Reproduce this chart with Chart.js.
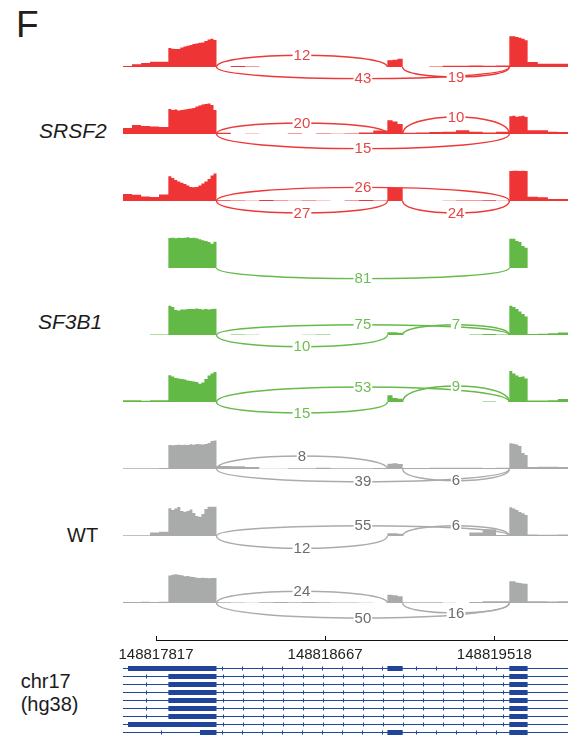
<!DOCTYPE html>
<html>
<head>
<meta charset="utf-8">
<script src="https://cdn.jsdelivr.net/npm/chart.js@4.4.1/dist/chart.umd.min.js"></script>
<style>
  html, body { margin: 0; padding: 0; background: #ffffff; }
  body { width: 568px; height: 736px; position: relative; overflow: hidden;
         font-family: "Liberation Sans", Arial, sans-serif; }
  .lbl { position: absolute; white-space: nowrap; line-height: 1; color: #1c1c1c; }
  .it { font-style: italic; }
  canvas { position: absolute; }
</style>
</head>
<body>
<div class="lbl" style="left:16px; top:5.7px; font-size:37px; color:#231f20;">F</div>
<div class="lbl it" style="left:39px; top:120.2px; font-size:21px;">SRSF2</div>
<div class="lbl it" style="left:38px; top:311.2px; font-size:21px;">SF3B1</div>
<div class="lbl" style="left:67px; top:525.1px; font-size:20px;">WT</div>
<div class="lbl" style="left:20.7px; top:671.1px; font-size:20px;">chr17</div>
<div class="lbl" style="left:20.7px; top:693.9px; font-size:20px;">(hg38)</div>

<script>
// ---------- genomic window (chr17, hg38) ----------
const VIEW_START = 148817651;
const VIEW_END   = 148819888;
const axisTicks  = [148817817, 148818667, 148819518];

// coverage bin start coordinates (each bin runs to the next start; last bin ends at VIEW_END)
const binStarts = [
  148817651, 148817696, 148817742, 148817787, 148817832,
  148817879, 148817894, 148817909, 148817924, 148817939, 148817955, 148817970, 148817985,
  148818000, 148818015, 148818030, 148818045, 148818060, 148818076, 148818091, 148818106,
  148818121, 148818193, 148818264, 148818336, 148818407, 148818479, 148818551, 148818622,
  148818694, 148818765, 148818837, 148818909,
  148818980, 148819006, 148819031,
  148819057, 148819124, 148819191, 148819258, 148819325, 148819392, 148819459, 148819526,
  148819593, 148819608, 148819624, 148819639, 148819654, 148819670,
  148819685, 148819736, 148819787, 148819837
];

// splice junctions: [donor, acceptor]
const junctions = [
  [148818121, 148818980],
  [148818121, 148819593],
  [148819057, 148819593]
];

// relative read depth per bin
const covSRSF2a = [1, 2.7, 4, 5.3, 5.3,
  19, 18.3, 18, 18, 19.5, 20.5, 21.3, 22, 23, 23.5, 24.3, 24.5, 26, 27.5, 28.3, 27,
  0, 1, 0.6, 0, 0, 0, 0, 0, 0, 0, 0, 0,
  6.7, 7.3, 8.3,
  0, 0, 0.6, 1.3, 1.3, 1.6, 1.3, 1.6,
  30.7, 30.7, 30, 29.3, 28.3, 26.7,
  5, 3.3, 3.3, 3.3];
const covSRSF2b = [6, 9, 8, 7.5, 7,
  25, 24, 24.5, 23.5, 24, 24.5, 25, 25.5, 26, 27.5, 28.5, 29.5, 30, 30.5, 29, 24,
  1.3, 0, 0.3, 0, 0, 0.5, 0, 0.6, 0.3, 0.6, 1.5, 3.5,
  13.7, 12.5, 10,
  1.3, 1.6, 2, 2.3, 3.7, 2.3, 1.6, 2.3,
  17.7, 18.3, 17.3, 17.7, 18.3, 17,
  3.7, 3.7, 2.3, 2];
const covSRSF2c = [7, 6.3, 4.5, 4, 6.5,
  24.7, 23, 21, 19.5, 18.3, 17, 15.5, 14, 13.7, 14, 15.5, 17.5, 19.5, 22, 25.5, 27.5,
  0.7, 0.6, 0.3, 1, 0.5, 0.3, 0.6, 0.3, 0, 0.6, 1, 0.6,
  13.7, 13, 13.3,
  0, 0, 0, 0.3, 0.5, 0.6, 0.8, 0.3,
  30, 30.3, 30.3, 30, 30.3, 30,
  4.3, 3.7, 2, 2];
const covSF3B1a = [0, 0, 0, 0, 0,
  30, 30.3, 29.7, 30.3, 30, 30.3, 30.7, 30, 30.3, 29.7, 28.7, 27.7, 27, 26, 24.3, 26.3,
  0, 0, 0, 0, 0, 0, 0, 0, 0, 0, 0, 0,
  0, 0, 0,
  0, 0, 0, 0, 0, 0, 0, 0,
  29.3, 29.3, 27, 26, 22, 20.3,
  0, 0, 0, 0];
const covSF3B1b = [0, 0, 0, 0.5, 0.5,
  29.3, 28, 25, 24.5, 25.5, 25.5, 26, 26, 26, 26.5, 26, 25.5, 26, 25.5, 26, 26.3,
  0, 0.6, 0.3, 0, 0, 0, 0.3, 0.6, 0, 0, 0, 0,
  2.7, 2.7, 2.3,
  0, 0, 0, 0, 0, 0.6, 1, 0.5,
  29.3, 28, 26, 23.5, 21, 18.5,
  1, 1.3, 1.7, 2.5];
const covSF3B1c = [1.7, 1.7, 1.3, 1.7, 1.7,
  26.7, 25.5, 24, 23.5, 23, 22.5, 21.5, 21, 20.5, 20, 18.3, 19.5, 23, 26.5, 28.5, 30,
  0, 0, 0, 0, 0, 0, 0, 0, 0, 0, 0, 0,
  6.7, 4, 3.3,
  0, 0, 0, 0, 0, 0, 0.5, 0,
  31, 28.5, 26.5, 25, 25.5, 23.5,
  1.5, 1.5, 1.7, 3];
const covWTa = [0.7, 0.7, 0.7, 0.7, 1,
  24, 23.7, 24, 24.3, 24, 24.3, 24, 24.7, 24.3, 25, 24.7, 24.5, 25, 26, 28, 28.5,
  3, 2.7, 2, 0.3, 0.3, 0.7, 0.7, 1.2, 0.7, 0.7, 0.7, 1,
  5.3, 5.7, 5,
  1, 1, 1.3, 1.3, 1.3, 1.3, 1, 1.3,
  25.7, 25.3, 24.5, 23, 16, 14,
  2, 2.3, 2.3, 2];
const covWTb = [0.7, 0.7, 0.7, 3.5, 4.3,
  27.7, 26, 27.5, 29, 25, 24.3, 25, 26.5, 23, 20, 19.3, 22, 27, 29.3, 29.3, 29.3,
  0, 0, 0, 0, 0, 0, 0, 0, 0, 0, 0, 0,
  2.7, 2.7, 2.3,
  0, 0, 0, 0, 0, 3.5, 6.7, 1,
  28.7, 27.5, 26, 24, 22.7, 21,
  1.5, 1.3, 1.3, 1.5];
const covWTc = [1, 1, 1.3, 1, 1.3,
  27.5, 28.3, 28.7, 28.3, 27.7, 26.7, 27, 26.3, 26, 25.3, 25, 25.3, 25, 24.7, 25, 25,
  0.7, 0.5, 0.3, 0.7, 1, 0.7, 1, 0.7, 0.6, 0.5, 0.3, 0,
  8.3, 7.7, 6.7,
  0.7, 0.7, 0.7, 0.3, 0, 1, 1.7, 1.7,
  21.7, 21.7, 20.5, 20, 19.5, 19.3,
  1.7, 1.7, 1.5, 1.7];

// junction read counts, in the order of `junctions` (null = not shown)
const readsSRSF2a = [12, 43, 19];
const readsSRSF2b = [20, 15, 10];
const readsSRSF2c = [27, 26, 24];
const readsSF3B1a = [null, 81, null];
const readsSF3B1b = [10, 75, 7];
const readsSF3B1c = [15, 53, 9];
const readsWTa = [8, 39, 6];
const readsWTb = [12, 55, 6];
const readsWTc = [24, 50, 16];

// annotated transcripts: exon [start, end] pairs
const tx1 = [[148817676, 148818121], [148818980, 148819057], [148819593, 148819685]];
const tx2 = [[148817879, 148818121], [148819593, 148819685]];
const tx3 = [[148817879, 148818121], [148819593, 148819685]];
const tx4 = [[148817879, 148818121], [148819593, 148819685]];
const tx5 = [[148817879, 148818121], [148819593, 148819685]];
const tx6 = [[148817879, 148818121], [148819593, 148819685]];
const tx7 = [[148817879, 148818121], [148819593, 148819685]];
const tx8 = [[148817676, 148818121], [148819593, 148819685]];
const tx9 = [[148818038, 148818121], [148818980, 148819057], [148819593, 148819685]];

// ---------- styling / layout ----------
const PALETTE = {
  SRSF2: { fill: '#ee3434', arc: '#ee3838', text: '#e64545' },
  SF3B1: { fill: '#63b946', arc: '#66ba4a', text: '#6dbe52' },
  WT:    { fill: '#a9abab', arc: '#ababab', text: '#6c6c6c' }
};
// arc apex offset from the baseline (px, + above / - below) for each junction
const tracks = [
  { group: 'SRSF2', cov: covSRSF2a, reads: readsSRSF2a, apex: [11.7, -11.6, -10] },
  { group: 'SRSF2', cov: covSRSF2b, reads: readsSRSF2b, apex: [11, -14.6, 17] },
  { group: 'SRSF2', cov: covSRSF2c, reads: readsSRSF2c, apex: [-12, 13.6, -12] },
  { group: 'SF3B1', cov: covSF3B1a, reads: readsSF3B1a, apex: [0, -10.6, 0] },
  { group: 'SF3B1', cov: covSF3B1b, reads: readsSF3B1b, apex: [-11.7, 10.3, 10.3] },
  { group: 'SF3B1', cov: covSF3B1c, reads: readsSF3B1c, apex: [-11, 15, 16] },
  { group: 'WT',    cov: covWTa,    reads: readsWTa,    apex: [13, -12.7, -11.7] },
  { group: 'WT',    cov: covWTb,    reads: readsWTb,    apex: [-12.3, 10.3, 10.3] },
  { group: 'WT',    cov: covWTc,    reads: readsWTc,    apex: [11.7, -15, -10] }
];
const TRACK_LEFT = 123, TRACK_WIDTH = 445;
const FIRST_BASELINE = 67, TRACK_STEP = 67;
const ABOVE = 44, BELOW = 24;   // px above / below the baseline inside each track canvas
const FONT = '"Liberation Sans", Arial, sans-serif';
const GENE_BLUE = '#1f4499';

Chart.defaults.animation = false;
Chart.defaults.font.family = FONT;

function addCanvas(left, top, w, h) {
  const c = document.createElement('canvas');
  c.width = w; c.height = h;
  c.style.left = left + 'px'; c.style.top = top + 'px';
  c.style.width = w + 'px'; c.style.height = h + 'px';
  document.body.appendChild(c);
  return c;
}

// junction arcs with their read-count labels
const sashimiArcs = {
  id: 'sashimiArcs',
  afterDatasetsDraw(chart, args, opts) {
    const { ctx, scales: { x, y } } = chart;
    const y0 = y.getPixelForValue(0);
    const labels = [];
    ctx.save();
    ctx.lineWidth = 1.4;
    ctx.strokeStyle = opts.arcColor;
    opts.reads.forEach((n, j) => {
      if (n == null) return;
      const [d, a] = junctions[j];
      const x1 = x.getPixelForValue(d), x2 = x.getPixelForValue(a);
      const yp = y.getPixelForValue(opts.apex[j]);
      const yc = y0 + (yp - y0) / 0.75;
      ctx.beginPath();
      ctx.moveTo(x1, y0);
      ctx.bezierCurveTo(x1, yc, x2, yc, x2, y0);
      ctx.stroke();
      labels.push({ x: (x1 + x2) / 2, y: yp, t: String(n) });
    });
    ctx.font = '15px ' + FONT;
    ctx.textAlign = 'center';
    ctx.textBaseline = 'middle';
    labels.forEach(l => {
      const w = ctx.measureText(l.t).width + 2;
      ctx.fillStyle = '#ffffff';
      ctx.fillRect(l.x - w / 2, l.y - 5.5, w, 11);
      ctx.fillStyle = opts.textColor;
      ctx.fillText(l.t, l.x, l.y + 0.5);
    });
    ctx.restore();
  }
};

// coverage tracks
tracks.forEach((tr, k) => {
  const col = PALETTE[tr.group];
  const baseline = FIRST_BASELINE + TRACK_STEP * k;
  const cv = addCanvas(TRACK_LEFT, baseline - ABOVE, TRACK_WIDTH, ABOVE + BELOW);
  const pts = binStarts.map((s, i) => ({ x: s, y: tr.cov[i] }));
  pts.push({ x: VIEW_END, y: tr.cov[tr.cov.length - 1] });
  new Chart(cv, {
    type: 'line',
    data: { datasets: [{
      data: pts, stepped: 'before', fill: 'origin',
      backgroundColor: col.fill, borderColor: 'rgba(0,0,0,0)', borderWidth: 0,
      pointRadius: 0, pointHoverRadius: 0
    }]},
    options: {
      responsive: false, devicePixelRatio: 1, events: [],
      layout: { padding: 0 },
      scales: {
        x: { type: 'linear', min: VIEW_START, max: VIEW_END, display: false },
        y: { type: 'linear', min: -BELOW, max: ABOVE, display: false }
      },
      plugins: {
        legend: { display: false }, tooltip: { enabled: false },
        sashimiArcs: { reads: tr.reads, apex: tr.apex, arcColor: col.arc, textColor: col.text }
      }
    },
    plugins: [sashimiArcs]
  });
});

// genomic coordinate axis (ticks point up from the axis line, labels below it)
(function () {
  const AXIS_Y = 640, FIRST_TICK_X = 156, RIGHT_EDGE = 568;
  const padLeft = 50;
  const cv = addCanvas(FIRST_TICK_X - padLeft, AXIS_Y - 47,
                       RIGHT_EDGE - FIRST_TICK_X + padLeft, 80);
  const chart = new Chart(cv, {
    type: 'line',
    data: { datasets: [] },
    options: {
      responsive: false, devicePixelRatio: 1, events: [],
      layout: { padding: { left: padLeft, top: 0, right: 0, bottom: 0 } },
      scales: {
        x: {
          type: 'linear', position: 'bottom', min: axisTicks[0], max: VIEW_END,
          afterBuildTicks: s => { s.ticks = axisTicks.map(v => ({ value: v })); },
          border: { display: true, color: '#111', width: 1 },
          grid: { display: true, drawOnChartArea: false, drawTicks: true, tickLength: -4,
                  color: '#111', lineWidth: 1 },
          ticks: { padding: 9.5, autoSkip: false, maxRotation: 0, color: '#222',
                   font: { size: 15, family: FONT }, callback: v => String(v) }
        },
        y: { display: false, min: 0, max: 1 }
      },
      plugins: { legend: { display: false }, tooltip: { enabled: false } }
    }
  });
  // place the axis line and first tick at their page positions
  const xs = chart.scales.x;
  cv.style.top = (AXIS_Y - Math.round(xs.top)) + 'px';
  cv.style.left = (FIRST_TICK_X - Math.round(xs.getPixelForValue(axisTicks[0]))) + 'px';
})();

// gene models
(function () {
  const txs = [tx1, tx2, tx3, tx4, tx5, tx6, tx7, tx8, tx9];
  const datasets = [];
  txs.forEach((ex, r) => {
    const row = r + 1;
    ex.forEach(([s, e]) => datasets.push({
      data: [{ x: s, y: row }, { x: e, y: row }], borderColor: GENE_BLUE,
      borderWidth: 5, pointRadius: 0, borderCapStyle: 'butt'
    }));
    datasets.push({
      data: [{ x: VIEW_START, y: row }, { x: VIEW_END, y: row }], borderColor: GENE_BLUE,
      borderWidth: 1, pointRadius: 0
    });
  });
  // strand marks along the intronic stretches
  const strandMarks = {
    id: 'strandMarks',
    afterDatasetsDraw(chart) {
      const { ctx, scales: { x, y } } = chart;
      ctx.save();
      ctx.strokeStyle = GENE_BLUE;
      ctx.lineWidth = 1;
      txs.forEach((ex, r) => {
        const yy = y.getPixelForValue(r + 1);
        const px = ex.map(([s, e]) => [x.getPixelForValue(s), x.getPixelForValue(e)]);
        const marks = [];
        const lead = px[0][0] - x.getPixelForValue(VIEW_START);
        if (lead > 30) marks.push(x.getPixelForValue(VIEW_START) + lead / 2);
        for (let i = 0; i < px.length - 1; i++) {
          const a = px[i][1], b = px[i + 1][0], L = b - a;
          const n = Math.max(1, Math.round(L / 20));
          const off = (L - (n - 1) * 20) / 2;
          for (let m = 0; m < n; m++) marks.push(a + off + m * 20);
        }
        marks.forEach(mx => {
          const xx = Math.round(mx) + 0.5;
          ctx.beginPath();
          ctx.moveTo(xx, yy - 2);
          ctx.lineTo(xx, yy + 2);
          ctx.stroke();
        });
      });
      ctx.restore();
    }
  };
  const cv = addCanvas(TRACK_LEFT, 660, TRACK_WIDTH, 76);
  new Chart(cv, {
    type: 'line',
    data: { datasets },
    options: {
      responsive: false, devicePixelRatio: 1, events: [],
      layout: { padding: 0 },
      scales: {
        x: { type: 'linear', min: VIEW_START, max: VIEW_END, display: false },
        y: { type: 'linear', min: -0.0625, max: 9.4375, reverse: true, display: false }
      },
      plugins: { legend: { display: false }, tooltip: { enabled: false } }
    },
    plugins: [strandMarks]
  });
})();
</script>
</body>
</html>
